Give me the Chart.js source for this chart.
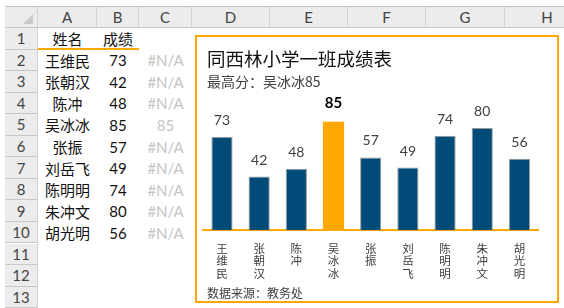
<!DOCTYPE html>
<html>
<head>
<meta charset="utf-8">
<title>同西林小学一班成绩表</title>
<script src="https://cdn.jsdelivr.net/npm/chart.js"></script>
<style>
  body { margin:0; width:564px; height:308px; overflow:hidden; position:relative; background:#fff;
         font-family: Lato, 'Noto Sans CJK SC', sans-serif; }
  .c { position:absolute; box-sizing:border-box; display:flex; align-items:center; justify-content:center; white-space:nowrap; }
  .hd { background:#ececec; color:#444; font-size:15px; border-right:1px solid #d2d2d2; border-bottom:1px solid #c8c8c8; }
  .txt { font-size:15px; color:#111; }
  .na { font-size:15px; color:#c4c4c4; }
  #box { position:absolute; left:195px; top:35px; width:360px; height:264px; border:2px solid #FFA800; background:#fff; }
  #box canvas { position:absolute; left:0; top:0; }
  .t { position:absolute; left:10px; white-space:nowrap; font-family:'Noto Sans CJK SC', sans-serif; }
</style>
</head>
<body>
<div id="sheet"></div>
<div id="box">
  <canvas id="scoreChart" width="360" height="264"></canvas>
  <div class="t" style="top:8px;font-size:18.5px;color:#111;">同西林小学一班成绩表</div>
  <div class="t" style="top:34px;font-size:14px;color:#404040;">最高分：吴冰冰85</div>
  <div class="t" style="top:247px;font-size:12px;color:#404040;">数据来源：教务处</div>
</div>
<script>
  // 数据
  const names = ['王维民', '张朝汉', '陈冲', '吴冰冰', '张振', '刘岳飞', '陈明明', '朱冲文', '胡光明'];
  const scores = [73, 42, 48, 85, 57, 49, 74, 80, 56];
  const maxCol = [null, null, null, 85, null, null, null, null, null]; // C列辅助列
  const colLetters = ['A', 'B', 'C', 'D', 'E', 'F', 'G', 'H'];
  const headers = ['姓名', '成绩'];

  // 表格部分
  const sheet = document.getElementById('sheet');
  const colEdges = [5, 38, 97, 139, 192, 270, 348, 426, 505, 590];
  const headTop = 7, headBottom = 28, rowH = 21.55;

  function cell(x0, x1, y0, y1, text, cls) {
    const d = document.createElement('div');
    d.className = 'c ' + cls;
    d.style.left = x0 + 'px';
    d.style.top = y0 + 'px';
    d.style.width = (x1 - x0) + 'px';
    d.style.height = (y1 - y0) + 'px';
    d.textContent = text;
    sheet.appendChild(d);
    return d;
  }

  const line = cell(5, 564, 6, 7, '', '');
  line.style.background = '#c4c4c4';

  const corner = cell(colEdges[0], colEdges[1], headTop, headBottom, '', 'hd');
  const tri = document.createElement('div');
  tri.style.cssText = 'position:absolute;right:4px;bottom:3px;width:0;height:0;border-left:10px solid transparent;border-bottom:10px solid #c9c9c9;';
  corner.appendChild(tri);

  colLetters.forEach((l, i) => cell(colEdges[i + 1], colEdges[i + 2], headTop, headBottom, l, 'hd'));

  for (let r = 0; r < 13; r++) {
    const y0 = headBottom + r * rowH, y1 = y0 + rowH;
    cell(colEdges[0], colEdges[1], y0, y1, String(r + 1), 'hd');
    if (r === 0) {
      cell(colEdges[1], colEdges[2], y0, y1, headers[0], 'txt');
      cell(colEdges[2], colEdges[3], y0, y1, headers[1], 'txt');
      const u = cell(colEdges[1], colEdges[3], y1 - 2, y1, '', '');
      u.style.background = '#FFA800';
    } else if (r <= names.length) {
      const i = r - 1;
      cell(colEdges[1], colEdges[2], y0, y1, names[i], 'txt');
      cell(colEdges[2], colEdges[3], y0, y1, String(scores[i]), 'txt');
      cell(colEdges[3], colEdges[4], y0, y1, maxCol[i] === null ? '#N/A' : String(maxCol[i]), 'na');
    }
  }

  // 图表部分
  const valueLabels = {
    id: 'valueLabels',
    afterDatasetsDraw(chart) {
      const ctx = chart.ctx;
      const meta = chart.getDatasetMeta(0);
      ctx.save();
      ctx.textAlign = 'center';
      ctx.textBaseline = 'middle';
      meta.data.forEach((bar, i) => {
        const isMax = maxCol[i] !== null;
        ctx.font = isMax ? 'bold 15px Lato, sans-serif' : '14px Lato, sans-serif';
        ctx.fillStyle = isMax ? '#000' : '#404040';
        ctx.fillText(String(scores[i]), bar.x, bar.y - (isMax ? 18.5 : 16.5));
      });
      ctx.restore();
    }
  };

  const ctx = document.getElementById('scoreChart').getContext('2d');
  new Chart(ctx, {
    type: 'bar',
    data: {
      labels: names.map(n => n.split('')),
      datasets: [{
        label: '成绩',
        data: scores,
        backgroundColor: '#004B78',
        borderColor: '#9a9a9a',
        borderWidth: 1,
        barPercentage: 0.57,
        categoryPercentage: 1,
        grouped: false,
        order: 2
      }, {
        label: '最高分',
        data: maxCol,
        backgroundColor: '#FFA800',
        borderWidth: 0,
        barPercentage: 0.57,
        categoryPercentage: 1,
        grouped: false,
        order: 1
      }]
    },
    options: {
      responsive: false,
      animation: false,
      layout: { padding: { left: 6.4, right: 19, top: 65.6, bottom: 0 } },
      plugins: { legend: { display: false }, tooltip: { enabled: false } },
      scales: {
        x: {
          grid: { display: false },
          border: { color: '#FFA800', width: 2 },
          ticks: {
            color: '#404040',
            padding: 5,
            font: { family: "'Noto Sans CJK SC', sans-serif", size: 11.5, lineHeight: 1.05 }
          },
          afterFit: s => { s.height = 71; }
        },
        y: { display: false, min: 0, max: 100 }
      }
    },
    plugins: [valueLabels]
  });
</script>
</body>
</html>
